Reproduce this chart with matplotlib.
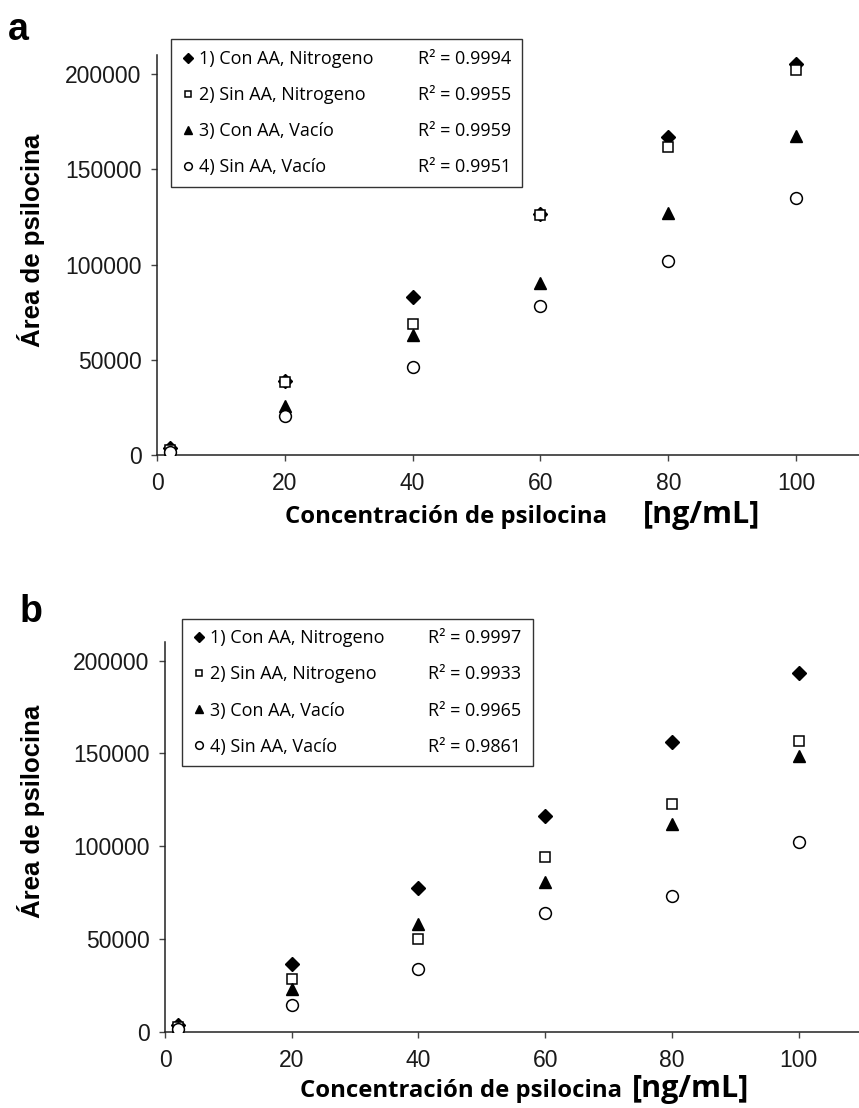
import matplotlib.pyplot as plt
from matplotlib.lines import Line2D

# data
conc = [2, 20, 40, 60, 80, 100]

series_names = [
    "1) Con AA, Nitrogeno",
    "2) Sin AA, Nitrogeno",
    "3) Con AA, Vacío",
    "4) Sin AA, Vacío",
]

a_con_n2 = [3500, 39000, 83000, 126500, 167000, 205500]
a_sin_n2 = [2500, 38500, 69000, 126000, 161500, 202000]
a_con_vac = [1000, 25500, 63000, 90500, 127000, 167500]
a_sin_vac = [1500, 20500, 46000, 78000, 102000, 135000]
a_r2 = ["0.9994", "0.9955", "0.9959", "0.9951"]

b_con_n2 = [4000, 36500, 77500, 116500, 156000, 193500]
b_sin_n2 = [2500, 28500, 50000, 94000, 123000, 156500]
b_con_vac = [2000, 23000, 58000, 81000, 112000, 148500]
b_sin_vac = [1500, 14500, 34000, 64000, 73000, 102500]
b_r2 = ["0.9997", "0.9933", "0.9965", "0.9861"]

y_ticks = [0, 50000, 100000, 150000, 200000]
x_ticks = [0, 20, 40, 60, 80, 100]

# marker styles for the four series
_STYLES = [
    dict(marker="D", ms=7.5, mfc="black", mec="black"),
    dict(marker="s", ms=6.5, mfc="white", mec="black", mew=1.1),
    dict(marker="^", ms=9, mfc="black", mec="black"),
    dict(marker="o", ms=8.5, mfc="white", mec="black", mew=1.1),
]

ARIAL = "Liberation Sans"
LEGEND_FONT = "Open Sans"


def draw_panel(ax, series, r2, legend_anchor):
    handles = []
    for ys, st in zip(series, _STYLES):
        (h,) = ax.plot(conc, ys, linestyle="none", **st, zorder=3)
        handles.append(h)

    ax.set_xlim(0, 110)
    ax.set_ylim(0, 210000)
    ax.set_xticks(x_ticks)
    ax.set_yticks(y_ticks)
    ax.ticklabel_format(style="plain", axis="y")
    for side in ("top", "right"):
        ax.spines[side].set_visible(False)
    for side in ("left", "bottom"):
        ax.spines[side].set_color("#222222")
        ax.spines[side].set_linewidth(1.1)
    ax.tick_params(axis="both", direction="out", length=4, width=1,
                   color="#444444", labelcolor="#1a1a1a")
    ax.tick_params(axis="y", pad=7)
    ax.tick_params(axis="x", pad=8)
    for lbl in ax.get_xticklabels() + ax.get_yticklabels():
        lbl.set_fontfamily(ARIAL)
        lbl.set_fontsize(16.5)

    # legend: names in column 1, R² values in column 2
    blank = [Line2D([], [], linestyle="none") for _ in r2]
    labels = series_names + [f"R² = {v}" for v in r2]
    leg = ax.legend(
        handles + blank, labels, ncol=2, loc="upper left",
        bbox_to_anchor=legend_anchor, borderaxespad=0,
        frameon=True, fancybox=False, edgecolor="#333333",
        framealpha=1, markerscale=0.65, handlelength=0.7,
        handletextpad=0.25, columnspacing=1.5, labelspacing=1.0,
        borderpad=0.6, prop={"family": LEGEND_FONT, "size": 13},
    )
    leg.get_frame().set_linewidth(1.0)
    return ax


fig = plt.figure(figsize=(8.59, 11.08), dpi=100)

ax_a = fig.add_axes([157 / 859, 1 - 455 / 1108, 703 / 859, 400 / 1108])
ax_b = fig.add_axes([165 / 859, 1 - 1032 / 1108, 697 / 859, 390 / 1108])

draw_panel(ax_a, [a_con_n2, a_sin_n2, a_con_vac, a_sin_vac], a_r2,
           (0.020, 1.04))
draw_panel(ax_b, [b_con_n2, b_sin_n2, b_con_vac, b_sin_vac], b_r2,
           (0.024, 1.06))

# axis labels
for ax, ylab_xy, xl_x, unit_x, base_y in [
    (ax_a, (-0.179, 0.5375), 0.182, 0.691, -0.17),
    (ax_b, (-0.192, 0.565), 0.194, 0.670, -0.167),
]:
    ax.set_ylabel("Área de psilocina", fontfamily=ARIAL,
                  fontweight="bold", fontsize=18.5)
    ax.yaxis.label.set_va("center")
    ax.yaxis.set_label_coords(*ylab_xy)
    ax.text(xl_x, base_y, "Concentración de psilocina", transform=ax.transAxes,
            ha="left", va="baseline", fontfamily="Open Sans",
            fontweight="bold", fontsize=17.2)
    ax.text(unit_x, base_y, "[ng/mL]", transform=ax.transAxes,
            ha="left", va="baseline", fontfamily="Open Sans",
            fontweight="bold", fontsize=22)

# panel letters
fig.text(8 / 859, 1 - 40 / 1108, "a", fontfamily=ARIAL, fontweight="bold",
         fontsize=27, ha="left", va="baseline")
fig.text(20 / 859, 1 - 622 / 1108, "b", fontfamily=ARIAL, fontweight="bold",
         fontsize=27, ha="left", va="baseline")

fig.savefig("out.png", dpi=100)
